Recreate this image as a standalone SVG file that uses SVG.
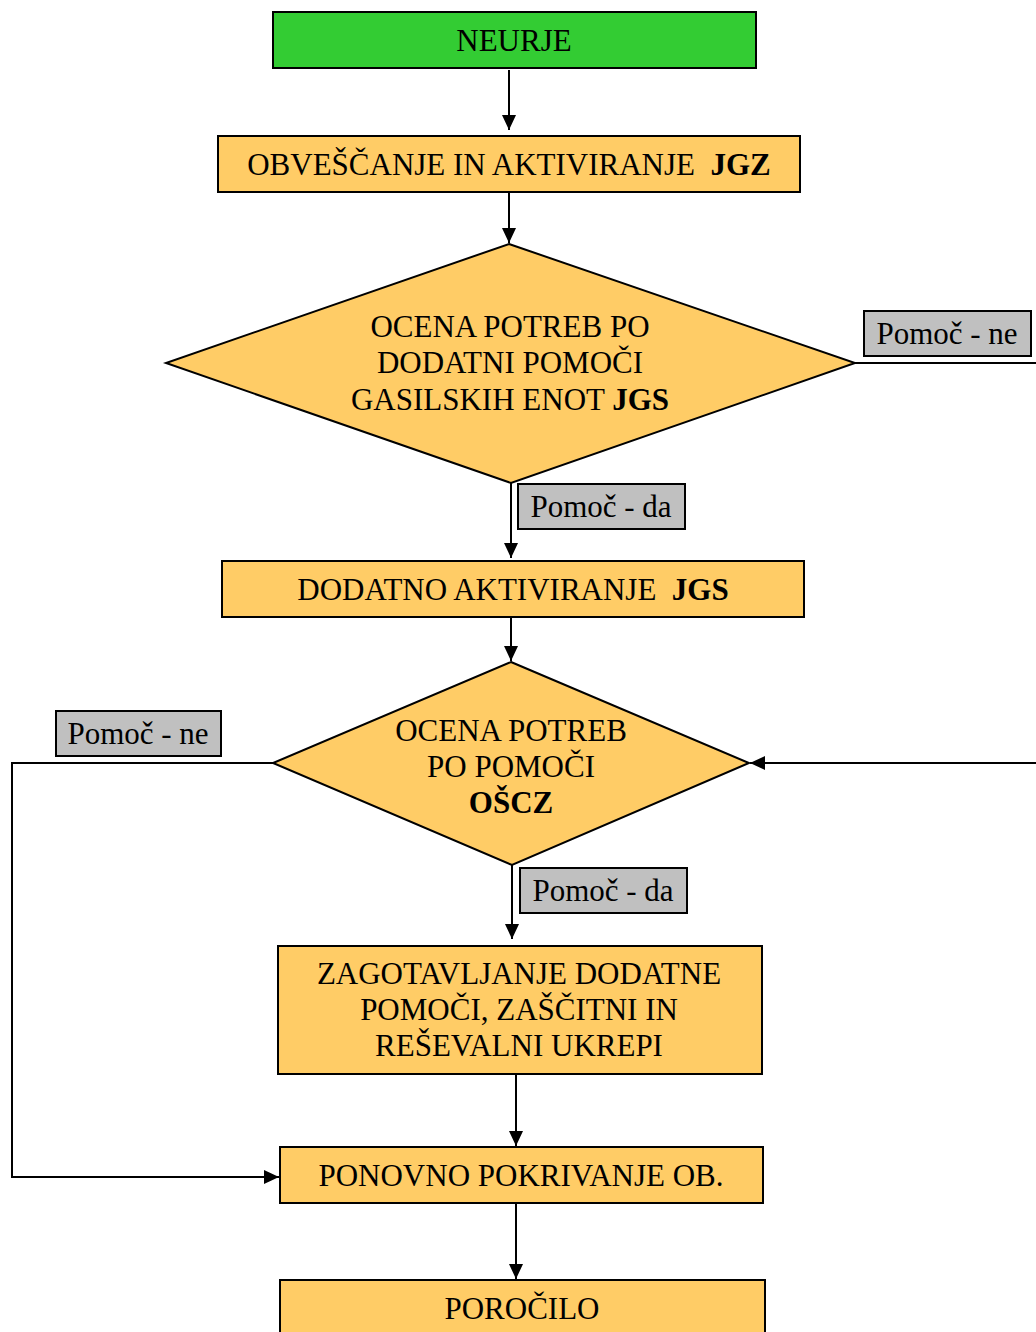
<svg xmlns="http://www.w3.org/2000/svg" width="1036" height="1332" viewBox="0 0 1036 1332">
<defs>
<marker id="ah" markerUnits="userSpaceOnUse" markerWidth="16" markerHeight="14" refX="15" refY="7" orient="auto"><path d="M0,0 L15,7 L0,14 Z" fill="#000"/></marker>
<style>
.box{fill:#FFCC66;stroke:#000;stroke-width:2}
.lbl{fill:#C0C0C0;stroke:#000;stroke-width:2}
.t{font-family:"Liberation Serif","Times New Roman",serif;font-size:31px;fill:#000;text-anchor:middle;white-space:pre}
.s{font-family:"Liberation Serif","Times New Roman",serif;font-size:31px;fill:#000;text-anchor:middle}
.c{fill:none;stroke:#000;stroke-width:2}
.b{font-weight:bold}
</style>
</defs>
<rect width="1036" height="1332" fill="#fff"/>
<g id="connectors">
<line class="c" x1="509" y1="70" x2="509" y2="130" marker-end="url(#ah)"/>
<line class="c" x1="509" y1="192" x2="509" y2="243" marker-end="url(#ah)"/>
<line class="c" x1="855" y1="363" x2="1036" y2="363"/>
<line class="c" x1="511" y1="483" x2="511" y2="558" marker-end="url(#ah)"/>
<line class="c" x1="511" y1="617" x2="511" y2="661" marker-end="url(#ah)"/>
<line class="c" x1="1036" y1="763" x2="750" y2="763" marker-end="url(#ah)"/>
<polyline class="c" points="273,763 12,763 12,1177 279,1177" marker-end="url(#ah)"/>
<line class="c" x1="512" y1="865" x2="512" y2="939" marker-end="url(#ah)"/>
<line class="c" x1="516" y1="1074" x2="516" y2="1146" marker-end="url(#ah)"/>
<line class="c" x1="516" y1="1203" x2="516" y2="1279" marker-end="url(#ah)"/>
</g>
<g id="neurje">
<rect x="273" y="12" width="483" height="56" fill="#33CC33" stroke="#000" stroke-width="2"/>
<text class="t" x="514" y="51">NEURJE</text>
</g>
<g id="obvescanje">
<rect class="box" x="218" y="136" width="582" height="56"/>
<text class="t" x="509" y="175" xml:space="preserve">OBVEŠČANJE IN AKTIVIRANJE  <tspan class="b">JGZ</tspan></text>
</g>
<g id="ocena1">
<polygon class="box" points="509,244 855,363 511,483 166,363"/>
<text class="t" x="510" y="337">OCENA POTREB PO</text>
<text class="t" x="510" y="373">DODATNI POMOČI</text>
<text class="t" x="510" y="410">GASILSKIH ENOT <tspan class="b">JGS</tspan></text>
</g>
<g id="lbl-ne1">
<rect class="lbl" x="864" y="311" width="167" height="45"/>
<text class="s" x="947" y="344">Pomoč - ne</text>
</g>
<g id="lbl-da1">
<rect class="lbl" x="518" y="484" width="167" height="45"/>
<text class="s" x="601" y="517">Pomoč - da</text>
</g>
<g id="dodatno">
<rect class="box" x="222" y="561" width="582" height="56"/>
<text class="t" x="513" y="600" xml:space="preserve">DODATNO AKTIVIRANJE  <tspan class="b">JGS</tspan></text>
</g>
<g id="ocena2">
<polygon class="box" points="511,662 749,763 512,865 273,763"/>
<text class="t" x="511" y="741">OCENA POTREB</text>
<text class="t" x="511" y="777">PO POMOČI</text>
<text class="t b" x="511" y="813">OŠCZ</text>
</g>
<g id="lbl-ne2">
<rect class="lbl" x="56" y="711" width="165" height="45"/>
<text class="s" x="138" y="744">Pomoč - ne</text>
</g>
<g id="lbl-da2">
<rect class="lbl" x="520" y="868" width="167" height="45"/>
<text class="s" x="603" y="901">Pomoč - da</text>
</g>
<g id="zagotavljanje">
<rect class="box" x="278" y="946" width="484" height="128"/>
<text class="t" x="519" y="984">ZAGOTAVLJANJE DODATNE</text>
<text class="t" x="519" y="1020">POMOČI, ZAŠČITNI IN</text>
<text class="t" x="519" y="1056">REŠEVALNI UKREPI</text>
</g>
<g id="ponovno">
<rect class="box" x="280" y="1147" width="483" height="56"/>
<text class="t" x="521" y="1186">PONOVNO POKRIVANJE OB.</text>
</g>
<g id="porocilo">
<rect class="box" x="280" y="1280" width="485" height="60"/>
<text class="t" x="522" y="1319">POROČILO</text>
</g>
</svg>
